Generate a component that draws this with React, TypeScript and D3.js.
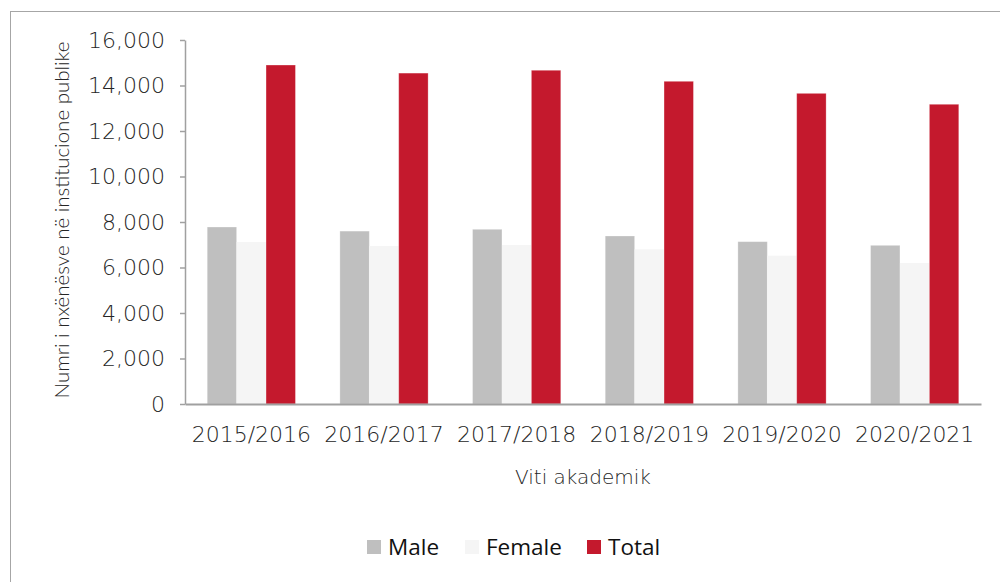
import React, { useRef, useEffect } from "react";
import * as d3 from "d3";

const years = ["2015/2016", "2016/2017", "2017/2018", "2018/2019", "2019/2020", "2020/2021"];
const male = [7780, 7600, 7680, 7385, 7135, 6975];
const female = [7120, 6945, 6990, 6800, 6520, 6200];
const total = [14900, 14545, 14670, 14185, 13655, 13175];
const yTicks = [0, 2000, 4000, 6000, 8000, 10000, 12000, 14000, 16000];

const seriesNames = ["Male", "Female", "Total"];
const seriesColors = ["#bfbfbf", "#f5f5f5", "#c4192d"];

const W = 1000;
const H = 582;
const M = { l: 185, r: 19, t: 40, b: 178 };

export default function App() {
  const svgRef = useRef<SVGSVGElement | null>(null);

  useEffect(() => {
    const svg = svgRef.current;
    if (!svg) return;
    const sel = d3.select(svg);
    sel.selectAll("*").remove();

    const x0 = d3.scaleBand<string>().domain(years).range([M.l, W - M.r]).paddingInner(0.335).paddingOuter(0.1675);
    const x1 = d3.scaleBand<string>().domain(seriesNames).range([0, x0.bandwidth()]);
    const y = d3.scaleLinear().domain([0, 16000]).range([H - M.b, M.t]);

    const font = "'DejaVu Sans', sans-serif";

    // outer frame
    sel.append("rect")
      .attr("x", 10.5).attr("y", 11.5).attr("width", 1000).attr("height", 600)
      .attr("fill", "#fff").attr("stroke", "#a6a6a6").attr("stroke-width", 1);

    const data = [male, female, total];

    const g = sel.append("g");
    years.forEach((yr, i) => {
      seriesNames.forEach((s, k) => {
        g.append("rect")
          .attr("x", (x0(yr) ?? 0) + (x1(s) ?? 0))
          .attr("y", y(data[k][i]))
          .attr("width", x1.bandwidth())
          .attr("height", y(0) - y(data[k][i]))
          .attr("fill", seriesColors[k])
          .attr("stroke", k === 1 ? "none" : "#ffffff")
          .attr("stroke-opacity", 0.35)
          .attr("stroke-width", 0.8);
      });
    });

    // y axis
    const ya = sel.append("g")
      .attr("transform", `translate(${M.l},0)`)
      .call(d3.axisLeft(y).tickValues(yTicks).tickSize(5).tickSizeOuter(0).tickFormat(d3.format(",")));
    ya.selectAll("path, line").attr("stroke", "#a0a0a0").attr("stroke-width", 1.5);
    ya.selectAll("text")
      .attr("font-family", font).attr("font-weight", 200)
      .attr("font-size", 22).attr("fill", "#262626").attr("dx", -12);

    // x axis
    const xa = sel.append("g")
      .attr("transform", `translate(0,${y(0)})`)
      .call(d3.axisBottom(x0).tickSize(0).tickSizeOuter(0));
    xa.selectAll("path").attr("stroke", "#a0a0a0").attr("stroke-width", 2);
    xa.selectAll("text")
      .attr("font-family", font).attr("font-weight", 200)
      .attr("font-size", 22).attr("fill", "#262626").attr("y", 22).attr("dy", "0.71em");

    sel.append("text")
      .attr("x", (M.l + W - M.r) / 2).attr("y", 484)
      .attr("text-anchor", "middle")
      .attr("font-family", font).attr("font-weight", 200)
      .attr("font-size", 20).attr("fill", "#262626")
      .text("Viti akademik");

    const cy = 220;
    sel.append("text")
      .attr("x", 69).attr("y", cy)
      .attr("text-anchor", "middle")
      .attr("transform", `rotate(-90, 69, ${cy})`)
      .attr("font-family", "Lato, 'DejaVu Sans', sans-serif").attr("font-weight", 300)
      .attr("font-size", 20.5).attr("fill", "#262626")
      .text("Numri i nxënësve në institucione publike");

    // legend
    const legendX = [367, 465, 587];
    const lg = sel.append("g");
    seriesNames.forEach((s, k) => {
      lg.append("rect")
        .attr("x", legendX[k]).attr("y", 540).attr("width", 14).attr("height", 14)
        .attr("fill", seriesColors[k]);
      lg.append("text")
        .attr("x", legendX[k] + 21).attr("y", 555)
        .attr("font-family", "'Open Sans', 'Noto Sans', sans-serif")
        .attr("font-size", 22.5).attr("fill", "#111")
        .text(s);
    });
  }, []);

  return (
    <svg
      ref={svgRef}
      width={W}
      height={H}
      style={{ position: "absolute", left: 0, top: 0, display: "block", background: "#fff" }}
    />
  );
}
